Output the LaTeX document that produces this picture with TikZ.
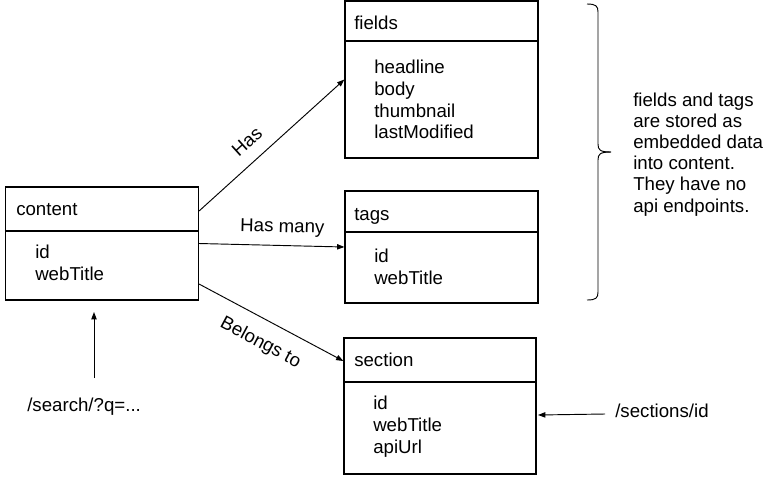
\documentclass[tikz,border=0pt]{standalone}
\usepackage{fontspec}
\setmainfont{Liberation Sans}
\usetikzlibrary{arrows.meta,calc}
\begin{document}
\begin{tikzpicture}[x=0.75pt,y=-0.75pt,
  every node/.style={font=\fontsize{14}{16}\selectfont},
  box/.style={draw, line width=0.9pt, inner sep=0, fill=none},
  txt/.style={anchor=base west, inner sep=0},
  lbl/.style={inner sep=0, sloped},
  conn/.style={line width=0.7pt, -{Triangle[length=5.5pt,width=4pt]}}]
\useasboundingbox (0,0) rectangle (768,480);
% boxes
\node[box, minimum width=144.75pt, minimum height=84.75pt] (content) at (102,243.5) {};
\node[box, minimum width=144.75pt, minimum height=117.75pt] (fields) at (441.5,79.5) {};
\node[box, minimum width=144.75pt, minimum height=84pt] (tags) at (441.5,247) {};
\node[box, minimum width=144pt, minimum height=102pt] (section) at (440,406) {};
% dividers
\draw[line width=0.9pt] (content.west |- 0,231) -- (content.east |- 0,231);
\draw[line width=0.9pt] (fields.west |- 0,41) -- (fields.east |- 0,41);
\draw[line width=0.9pt] (tags.west |- 0,232) -- (tags.east |- 0,232);
\draw[line width=0.9pt] (section.west |- 0,382) -- (section.east |- 0,382);
% texts
\node[txt] (ct) at (16,215) {content};
\node[txt] (c1) at (35,258) {id};
\node[txt] (c2) at (35,280) {webTitle};
\node[txt] (ft) at (354,29) {fields};
\node[txt] (f1) at (374,73) {headline};
\node[txt] (f2) at (374,95) {body};
\node[txt] (f3) at (374,117) {thumbnail};
\node[txt] (f4) at (374,138) {lastModified};
\node[txt] (tt) at (354,220) {tags};
\node[txt] (t1) at (374,262) {id};
\node[txt] (t2) at (374,284) {webTitle};
\node[txt] (st) at (354,366) {section};
\node[txt] (s1) at (373,409) {id};
\node[txt] (s2) at (373,431) {webTitle};
\node[txt] (s3) at (373,453) {apiUrl};
\node[txt] (search) at (27,411) {/search/?q=...};
\node[txt] (secid) at (615,417) {/sections/id};
\node[txt, align=left, font=\fontsize{14}{15.8}\selectfont] (note) at (633,212)
  {fields and tags\\are stored as\\embedded data\\into content.\\They have no\\api endpoints.};
% connectors
\draw[conn] ([yshift=24.4pt]content.east) -- node[lbl, pos=0.42, above=9.4pt] {Has} (fields.west);
\draw[conn] (content.east) -- node[lbl, pos=0.57, above=6.7pt] {Has many} (tags.west);
\draw[conn] ([yshift=-30.4pt]content.east) -- node[lbl, pos=0.5, below=10.5pt] {Belongs to} ([yshift=33.75pt]section.west);
\coordinate (sa) at (94,378);
\coordinate (sb) at (94,312);
\draw[conn] (sa) -- (sb);
\coordinate (ia) at (605,414);
\coordinate (ib) at (538,415);
\draw[conn] (ia) -- (ib);
% brace
\draw[line width=0.7pt] (587,4) .. controls (596,4) and (598,6) .. (598,12) -- (598,144)
  .. controls (598,150) and (600,152) .. (611,152);
\draw[line width=0.7pt] (611,152) .. controls (600,152) and (598,154) .. (598,160) -- (598,292)
  .. controls (598,298) and (596,300) .. (587,300);
\end{tikzpicture}
\end{document}
